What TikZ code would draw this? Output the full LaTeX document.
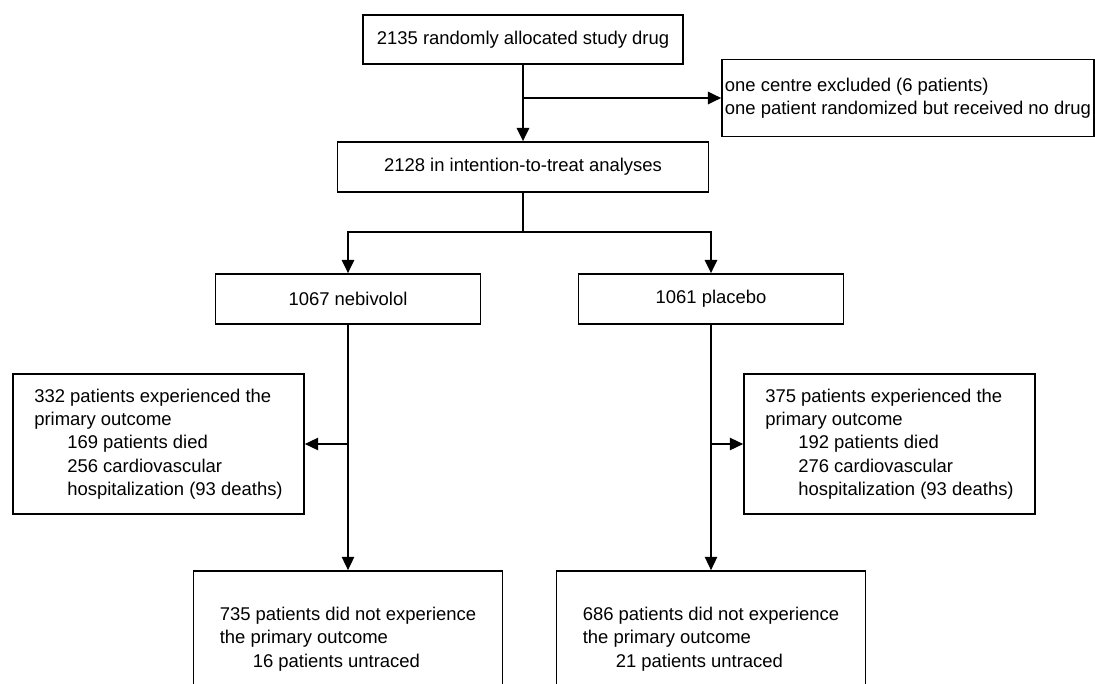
\documentclass[tikz,border=0pt]{standalone}
\usepackage{fontspec}
\setmainfont{Liberation Sans}
\usetikzlibrary{arrows.meta}

\tikzset{
    box/.style={draw, line width=1pt, inner sep=0pt, align=left,
        font=\fontsize{10.5}{13.3}\selectfont},
    link/.style={line width=1.1pt, -{Triangle[length=7.5pt,width=7pt]}},
    thinlink/.style={line width=0.7pt, -{Triangle[length=7.5pt,width=7pt]}}
}
\newcommand{\ind}{\hspace*{0.66cm}}

\begin{document}
\begin{tikzpicture}[x=0.02cm, y=-0.02cm]
    
    \useasboundingbox (0,0) rectangle (1095,683);
    \clip (0,0) rectangle (1095,683);
    
    \node[box, minimum width=6.4cm, minimum height=0.98cm] (alloc) at (523,39.5) {2135 randomly allocated study drug};
    \node[box, minimum width=7.44cm, minimum height=1.54cm] (excl) at (908,98) {one centre excluded (6 patients)\\one patient randomized but received no drug};
    \node[box, minimum width=7.42cm, minimum height=1cm] (itt) at (523,167) {2128 in intention-to-treat analyses};
    \node[box, minimum width=5.3cm, minimum height=1cm] (nebi) at (348,299) {1067 nebivolol};
    \node[box, minimum width=5.3cm, minimum height=1cm] (plac) at (711,299) {1061 placebo};
    \node[box, minimum width=5.82cm, minimum height=2.8cm] (evnebi) at (158.5,444) {332 patients experienced the\\primary outcome\\\ind 169 patients died\\\ind 256 cardiovascular\\\ind hospitalization (93 deaths)};
    \node[box, minimum width=5.82cm, minimum height=2.8cm] (evplac) at (889.5,444) {375 patients experienced the\\primary outcome\\\ind 192 patients died\\\ind 276 cardiovascular\\\ind hospitalization (93 deaths)};
    \node[box, minimum width=6.18cm, minimum height=2.72cm] (nonebi) at (348,639) {735 patients did not experience\\the primary outcome\\\ind 16 patients untraced};
    \node[box, minimum width=6.18cm, minimum height=2.72cm] (noplac) at (711,639) {686 patients did not experience\\the primary outcome\\\ind 21 patients untraced};
    
    \coordinate (exclpt) at (523,98);
    \coordinate (split) at (523,232);
    \coordinate (leftpt) at (348,444);
    \coordinate (rightpt) at (711,444);
    
    \draw[link] (alloc) -- (itt);
    \draw[link] (exclpt) -- (excl.west);
    \draw[line width=1.1pt] (itt) -- (split);
    \draw[link] (split) -| (nebi);
    \draw[link] (split) -| (plac);
    \draw[thinlink] (nebi) -- (nonebi);
    \draw[thinlink] (leftpt) -- (evnebi);
    \draw[thinlink] (plac) -- (noplac);
    \draw[thinlink] (rightpt) -- (evplac);
    
\end{tikzpicture}
\end{document}
